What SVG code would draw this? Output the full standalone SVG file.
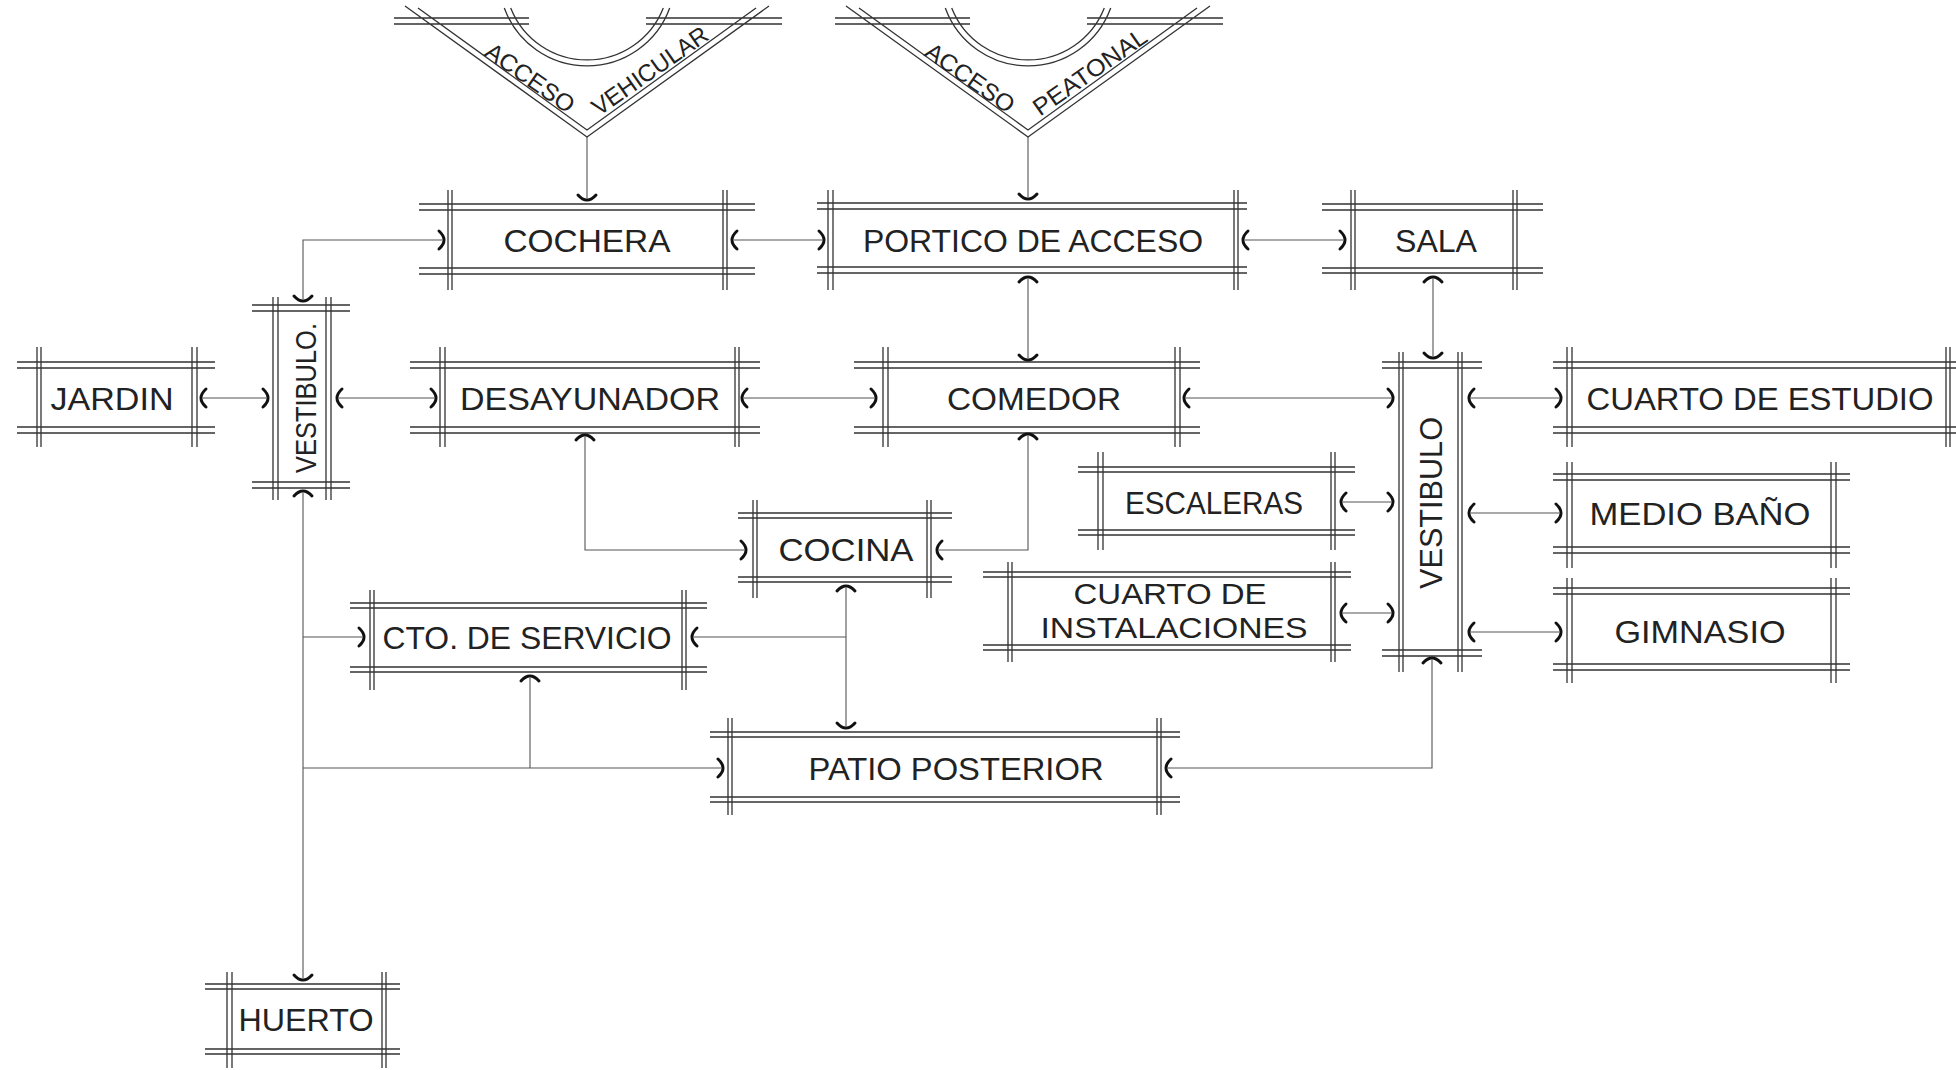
<svg xmlns="http://www.w3.org/2000/svg" width="1956" height="1070" viewBox="0 0 1956 1070">
<style>
.f{fill:none;stroke:#333;stroke-width:1.3}
.c{fill:none;stroke:#555;stroke-width:1.1}
.t{font-family:"Liberation Sans",Arial,sans-serif;font-size:32px;fill:#222;text-anchor:middle}
.s{font-family:"Liberation Sans",Arial,sans-serif;font-size:24px;fill:#222;text-anchor:middle}
.b{fill:none;stroke:#111;stroke-width:3;stroke-linecap:round}
</style>
<defs>
<path id="br" class="b" d="M-5,-9 Q5,0 -5,9"/>
<g id="vee">
<path class="f" d="M-193,18H-58M-193,24H-58M59,18H195M59,24H195M-182,6L0,137L182,6M-169,8L0,130L169,8M-82.7,8A88,88 0 0 0 82.7,8M-76.3,8A82,82 0 0 0 76.3,8"/>
</g>
</defs>
<rect width="1956" height="1070" fill="#fff"/>

<g id="acceso-vehicular">
<use href="#vee" transform="translate(587,0)"/>
<text class="s" transform="translate(530,78) rotate(35)" y="8" textLength="103" lengthAdjust="spacingAndGlyphs">ACCESO</text>
<text class="s" transform="translate(650,71) rotate(-35)" y="8" textLength="136" lengthAdjust="spacingAndGlyphs">VEHICULAR</text>
</g>

<g id="acceso-peatonal">
<use href="#vee" transform="translate(1028,0)"/>
<text class="s" transform="translate(970,78) rotate(35)" y="8" textLength="103" lengthAdjust="spacingAndGlyphs">ACCESO</text>
<text class="s" transform="translate(1090,72) rotate(-35)" y="8" textLength="133" lengthAdjust="spacingAndGlyphs">PEATONAL</text>
</g>

<g id="cochera">
<path class="f" d="M419,204H755M419,210H755M419,268H755M419,274H755M448,190V290M452,190V290M723,190V290M727,190V290"/>
<text class="t" x="587" y="252" textLength="167" lengthAdjust="spacingAndGlyphs">COCHERA</text>
</g>

<g id="portico">
<path class="f" d="M817,203H1247M817,209H1247M817,267H1247M817,273H1247M828,190V290M833,190V290M1234,190V290M1238,190V290"/>
<text class="t" x="1033" y="252" textLength="340" lengthAdjust="spacingAndGlyphs">PORTICO DE ACCESO</text>
</g>

<g id="sala">
<path class="f" d="M1322,204H1543M1322,210H1543M1322,268H1543M1322,273H1543M1351,190V290M1355,190V290M1513,190V290M1517,190V290"/>
<text class="t" x="1436" y="252" textLength="82" lengthAdjust="spacingAndGlyphs">SALA</text>
</g>

<g id="jardin">
<path class="f" d="M17,362H215M17,368H215M17,427H215M17,433H215M37,347V447M41,347V447M192,347V447M197,347V447"/>
<text class="t" x="112" y="410" textLength="123" lengthAdjust="spacingAndGlyphs">JARDIN</text>
</g>

<g id="vestibulo-izq">
<path class="f" d="M252,305H350M252,311H350M252,482H350M252,488H350M273,297V500M278,297V500M326,297V500M331,297V500"/>
<text class="t" transform="translate(316,398) rotate(-90)" style="font-size:30px" textLength="150" lengthAdjust="spacingAndGlyphs">VESTIBULO.</text>
</g>

<g id="desayunador">
<path class="f" d="M410,362H760M410,368H760M410,427H760M410,433H760M440,347V447M445,347V447M735,347V447M739,347V447"/>
<text class="t" x="590" y="410" textLength="260" lengthAdjust="spacingAndGlyphs">DESAYUNADOR</text>
</g>

<g id="comedor">
<path class="f" d="M854,362H1200M854,368H1200M854,427H1200M854,433H1200M883,347V447M888,347V447M1175,347V447M1180,347V447"/>
<text class="t" x="1034" y="410" textLength="174" lengthAdjust="spacingAndGlyphs">COMEDOR</text>
</g>

<g id="vestibulo-der">
<path class="f" d="M1382,362H1482M1382,368H1482M1382,650H1482M1382,656H1482M1399,352V672M1403,352V672M1458,352V672M1462,352V672"/>
<text class="t" transform="translate(1442,503) rotate(-90)" textLength="172" lengthAdjust="spacingAndGlyphs">VESTIBULO</text>
</g>

<g id="cuarto-estudio">
<path class="f" d="M1553,362H1956M1553,368H1956M1553,427H1956M1553,433H1956M1567,347V447M1572,347V447M1946,347V447M1950,347V447"/>
<text class="t" x="1760" y="410" textLength="347" lengthAdjust="spacingAndGlyphs">CUARTO DE ESTUDIO</text>
</g>

<g id="escaleras">
<path class="f" d="M1078,467H1355M1078,472H1355M1078,530H1355M1078,535H1355M1098,452V550M1103,452V550M1331,452V550M1335,452V550"/>
<text class="t" x="1214" y="514" textLength="178" lengthAdjust="spacingAndGlyphs">ESCALERAS</text>
</g>

<g id="cuarto-instalaciones">
<path class="f" d="M983,572H1351M983,577H1351M983,645H1351M983,650H1351M1008,562V662M1012,562V662M1331,562V662M1335,562V662"/>
<text class="t" x="1170" y="604" style="font-size:30px" textLength="193" lengthAdjust="spacingAndGlyphs">CUARTO DE</text>
<text class="t" x="1174" y="638" style="font-size:30px" textLength="267" lengthAdjust="spacingAndGlyphs">INSTALACIONES</text>
</g>

<g id="medio-bano">
<path class="f" d="M1553,474H1850M1553,480H1850M1553,547H1850M1553,553H1850M1567,462V568M1572,462V568M1831,462V568M1836,462V568"/>
<text class="t" x="1700" y="525" textLength="221" lengthAdjust="spacingAndGlyphs">MEDIO BAÑO</text>
</g>

<g id="gimnasio">
<path class="f" d="M1553,588H1850M1553,594H1850M1553,664H1850M1553,670H1850M1567,578V683M1572,578V683M1831,578V683M1836,578V683"/>
<text class="t" x="1700" y="643" textLength="171" lengthAdjust="spacingAndGlyphs">GIMNASIO</text>
</g>

<g id="cocina">
<path class="f" d="M738,513H952M738,518H952M738,577H952M738,582H952M753,500V598M757,500V598M927,500V598M931,500V598"/>
<text class="t" x="846" y="561" textLength="135" lengthAdjust="spacingAndGlyphs">COCINA</text>
</g>

<g id="cto-servicio">
<path class="f" d="M350,603H707M350,608H707M350,667H707M350,672H707M370,590V690M374,590V690M682,590V690M686,590V690"/>
<text class="t" x="527" y="649" textLength="289" lengthAdjust="spacingAndGlyphs">CTO. DE SERVICIO</text>
</g>

<g id="patio-posterior">
<path class="f" d="M710,732H1180M710,737H1180M710,797H1180M710,802H1180M728,718V815M732,718V815M1157,718V815M1161,718V815"/>
<text class="t" x="956" y="780" textLength="295" lengthAdjust="spacingAndGlyphs">PATIO POSTERIOR</text>
</g>

<g id="huerto">
<path class="f" d="M205,984H400M205,989H400M205,1049H400M205,1054H400M227,972V1068M232,972V1068M382,972V1068M386,972V1068"/>
<text class="t" x="306" y="1031" textLength="135" lengthAdjust="spacingAndGlyphs">HUERTO</text>
</g>

<g id="connectors">
<path class="c" d="M587,137V198M1028,137V197M303,299V240H442M734,240H822M1245,240H1343M203,398H266M339,398H434M744,398H874M1186,398H1391M1471,398H1559M1028,279V358M1433,279V356M585,437V550H744M1028,436V550H939M1343,502H1391M1471,513H1559M1343,613H1391M1471,632H1559M303,493V978M303,637H362M694,637H846M846,588V726M530,678V768M303,768H721M1168,768H1432V660"/>
<use href="#br" transform="translate(444,240)"/>
<use href="#br" transform="translate(732,240) scale(-1,1)"/>
<use href="#br" transform="translate(824,240)"/>
<use href="#br" transform="translate(1243,240) scale(-1,1)"/>
<use href="#br" transform="translate(1345,240)"/>
<use href="#br" transform="translate(201,398) scale(-1,1)"/>
<use href="#br" transform="translate(268,398)"/>
<use href="#br" transform="translate(337,398) scale(-1,1)"/>
<use href="#br" transform="translate(436,398)"/>
<use href="#br" transform="translate(742,398) scale(-1,1)"/>
<use href="#br" transform="translate(876,398)"/>
<use href="#br" transform="translate(1184,398) scale(-1,1)"/>
<use href="#br" transform="translate(1393,398)"/>
<use href="#br" transform="translate(1469,398) scale(-1,1)"/>
<use href="#br" transform="translate(1561,398)"/>
<use href="#br" transform="translate(1341,502) scale(-1,1)"/>
<use href="#br" transform="translate(1393,502)"/>
<use href="#br" transform="translate(1469,513) scale(-1,1)"/>
<use href="#br" transform="translate(1561,513)"/>
<use href="#br" transform="translate(1341,613) scale(-1,1)"/>
<use href="#br" transform="translate(1393,613)"/>
<use href="#br" transform="translate(1469,632) scale(-1,1)"/>
<use href="#br" transform="translate(1561,632)"/>
<use href="#br" transform="translate(746,550)"/>
<use href="#br" transform="translate(937,550) scale(-1,1)"/>
<use href="#br" transform="translate(364,637)"/>
<use href="#br" transform="translate(692,637) scale(-1,1)"/>
<use href="#br" transform="translate(723,768)"/>
<use href="#br" transform="translate(1166,768) scale(-1,1)"/>
<use href="#br" transform="translate(587,200) rotate(90)"/>
<use href="#br" transform="translate(1028,199) rotate(90)"/>
<use href="#br" transform="translate(1028,277) rotate(-90)"/>
<use href="#br" transform="translate(1028,360) rotate(90)"/>
<use href="#br" transform="translate(1433,277) rotate(-90)"/>
<use href="#br" transform="translate(1433,358) rotate(90)"/>
<use href="#br" transform="translate(303,301) rotate(90)"/>
<use href="#br" transform="translate(303,491) rotate(-90)"/>
<use href="#br" transform="translate(585,435) rotate(-90)"/>
<use href="#br" transform="translate(1028,434) rotate(-90)"/>
<use href="#br" transform="translate(846,586) rotate(-90)"/>
<use href="#br" transform="translate(846,728) rotate(90)"/>
<use href="#br" transform="translate(530,676) rotate(-90)"/>
<use href="#br" transform="translate(1432,658) rotate(-90)"/>
<use href="#br" transform="translate(303,980) rotate(90)"/>
</g>
</svg>
